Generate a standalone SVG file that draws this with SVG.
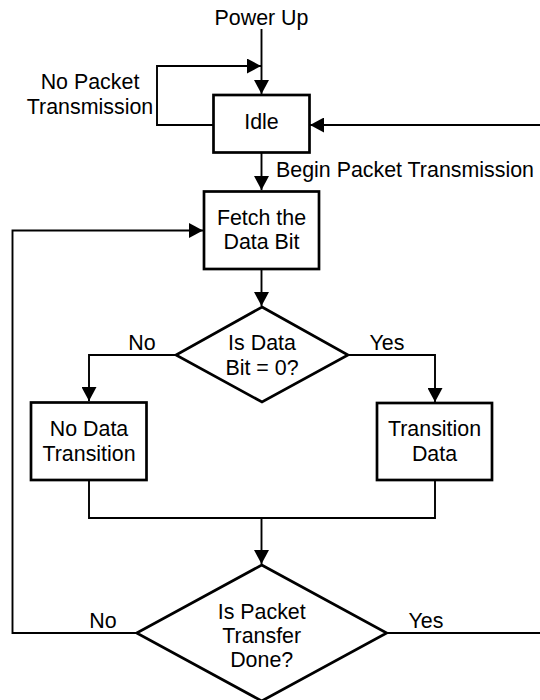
<svg xmlns="http://www.w3.org/2000/svg" width="540" height="700" viewBox="0 0 540 700">
<style>
text{font-family:"Liberation Sans",Arial,sans-serif;font-size:21.4px;fill:#000}
.c{text-anchor:middle}
.box{fill:#fff;stroke:#000;stroke-width:2.7}
.ln{fill:none;stroke:#000;stroke-width:1.9}
</style>
<defs>
<marker id="ah" markerUnits="userSpaceOnUse" markerWidth="15" markerHeight="15" refX="14" refY="7.5" orient="auto">
<path d="M0,0 L14,7.5 L0,15 z" fill="#000"/>
</marker>
</defs>
<rect width="540" height="700" fill="#fff"/>
<g id="connectors">
<path class="ln" d="M261.5,29 V94" marker-end="url(#ah)"/>
<path class="ln" d="M213,125 H157 V66 H261" marker-end="url(#ah)"/>
<path class="ln" d="M261.5,153 V190" marker-end="url(#ah)"/>
<path class="ln" d="M261.5,269 V306" marker-end="url(#ah)"/>
<path class="ln" d="M176,355 H89 V401" marker-end="url(#ah)"/>
<path class="ln" d="M348,355 H435 V402" marker-end="url(#ah)"/>
<path class="ln" d="M89,480 V518 H435 V480"/>
<path class="ln" d="M261.5,518 V564" marker-end="url(#ah)"/>
<path class="ln" d="M137,633 H12.5 V230.5 H203" marker-end="url(#ah)"/>
<path class="ln" d="M387,633 H545 V125 H310" marker-end="url(#ah)"/>
<text x="261.5" y="25" class="c">Power Up</text>
<text x="90" y="89" class="c">No Packet</text>
<text x="90" y="114" class="c">Transmission</text>
<text x="276" y="176.5">Begin Packet Transmission</text>
<text x="142" y="350" class="c">No</text>
<text x="387" y="350" class="c">Yes</text>
<text x="103" y="628" class="c">No</text>
<text x="426" y="628" class="c">Yes</text>
</g>
<g id="idle">
<rect class="box" x="213.5" y="95" width="96" height="57.5"/>
<text x="261.5" y="128.5" class="c">Idle</text>
</g>
<g id="fetch">
<rect class="box" x="204" y="191.5" width="115" height="77.5"/>
<text x="261.5" y="225" class="c">Fetch the</text>
<text x="261.5" y="249" class="c">Data Bit</text>
</g>
<g id="isdata">
<polygon class="box" points="262,307 348,355 262,402 176,355"/>
<text x="262" y="350" class="c">Is Data</text>
<text x="262" y="375" class="c">Bit = 0?</text>
</g>
<g id="nodata">
<rect class="box" x="31" y="402.5" width="115.5" height="77.5"/>
<text x="89" y="435.5" class="c">No Data</text>
<text x="89" y="460.5" class="c">Transition</text>
</g>
<g id="transdata">
<rect class="box" x="377" y="403" width="115" height="77"/>
<text x="434.5" y="435.5" class="c">Transition</text>
<text x="434.5" y="460.5" class="c">Data</text>
</g>
<g id="isdone">
<polygon class="box" points="261.7,565 386.7,633 261.7,701 136.7,633"/>
<text x="261.7" y="618.5" class="c">Is Packet</text>
<text x="261.7" y="643" class="c">Transfer</text>
<text x="261.7" y="667" class="c">Done?</text>
</g>
</svg>
